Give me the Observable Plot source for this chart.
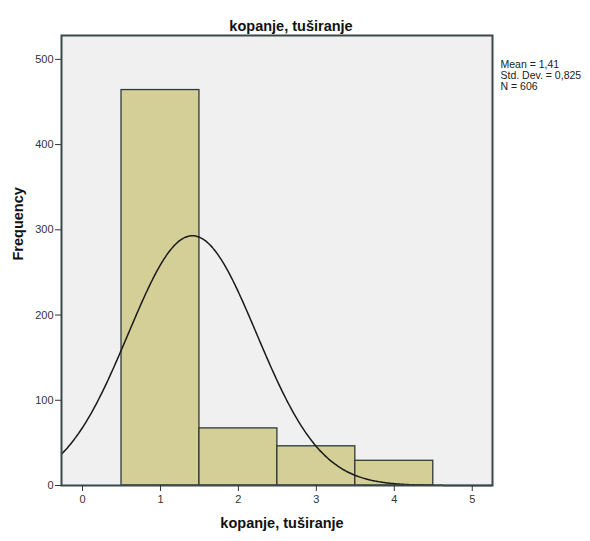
<!DOCTYPE html>
<html>
<head>
<meta charset="utf-8">
<script src="https://cdn.jsdelivr.net/npm/d3@7"></script>
<script src="https://cdn.jsdelivr.net/npm/@observablehq/plot@0.6"></script>
<style>
  body { margin: 0; background: #fff; }
  svg { font-family: "Liberation Sans", Arial, sans-serif; }
</style>
</head>
<body>
<div id="chart"></div>
<script>
// Data
const binStarts = [0.5, 1.5, 2.5, 3.5];
const binEnds = [1.5, 2.5, 3.5, 4.5];
const frequencies = [464, 67, 46, 29];
const mean = 1.41;
const stdDev = 0.825;
const n = 606;
const xTicks = [0, 1, 2, 3, 4, 5];
const yTicks = [0, 100, 200, 300, 400, 500];
const titleText = "kopanje, tuširanje";
const xLabel = "kopanje, tuširanje";
const yLabel = "Frequency";
const statsText = ["Mean = 1,41", "Std. Dev. = 0,825", "N = 606"];

const xDomain = [-0.27, 5.26];
const bins = frequencies.map((f, i) => ({x1: binStarts[i], x2: binEnds[i], y: f}));

// Normal curve fitted from the reported mean, std. dev. and N (bin width 1)
const curve = d3.range(xDomain[0], xDomain[1] + 0.001, 0.02).map(x => ({
  x,
  y: n * Math.exp(-0.5 * ((x - mean) / stdDev) ** 2) / (stdDev * Math.sqrt(2 * Math.PI))
}));

const ink = "#2b3535";
const chart = Plot.plot({
  width: 590,
  height: 541,
  marginLeft: 61,
  marginRight: 98,
  marginTop: 35,
  marginBottom: 56,
  style: {fontFamily: "'Liberation Sans', Arial, sans-serif", fontSize: "11px", color: "#222", background: "#fff"},
  x: {domain: xDomain, ticks: xTicks, tickFormat: d => String(d), label: null},
  y: {domain: [0, 528], ticks: yTicks, label: null},
  marks: [
    Plot.frame({fill: "#f0f0f0", stroke: "none"}),
    Plot.rectY(bins, {x1: "x1", x2: "x2", y: "y", fill: "#d4cf97", stroke: "#2e3a38", strokeWidth: 1.3, insetLeft: 0, insetRight: 0}),
    Plot.line(curve, {x: "x", y: "y", stroke: "#1a1a1a", strokeWidth: 1.5, curve: "basis"}),
    Plot.frame({stroke: "#3a4848", strokeWidth: 2}),
    Plot.axisX({ticks: xTicks, tickSize: 6, tickPadding: 4, stroke: ink, fontSize: 11, fill: "#333", tickFormat: d => String(d), label: null}),
    Plot.axisY({ticks: yTicks, tickSize: 6, tickPadding: 2, stroke: ink, fontSize: 11, fill: "#333", label: null}),
    Plot.text([titleText], {frameAnchor: "top", dx: 14, dy: -15, fontSize: 14.5, fontWeight: "bold", fill: "#111"}),
    Plot.text([xLabel], {frameAnchor: "bottom", dx: 5, dy: 42, fontSize: 14.5, fontWeight: "bold", fill: "#111"}),
    Plot.text([yLabel], {frameAnchor: "left", dx: -43, rotate: -90, fontSize: 14.5, fontWeight: "bold", fill: "#111"}),
    Plot.text([statsText.join("\n")], {frameAnchor: "top-right", dx: 8, dy: 25, textAnchor: "start", lineAnchor: "top", lineHeight: 1.05, fontSize: 10.5, fill: "#222"})
  ]
});
document.getElementById("chart").appendChild(chart);
</script>
</body>
</html>
